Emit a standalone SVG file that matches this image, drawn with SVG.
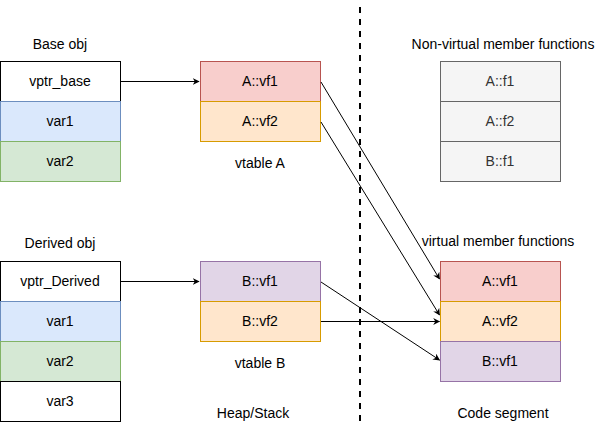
<svg xmlns="http://www.w3.org/2000/svg" width="611" height="423" viewBox="0 0 611 423">
<style>
text{font-family:"Liberation Sans",Arial,sans-serif;font-size:14px;fill:#000;text-anchor:middle;dominant-baseline:central}
.w{fill:#fff;stroke:#000}
.blue{fill:#dae8fc;stroke:#6c8ebf}
.green{fill:#d5e8d4;stroke:#82b366}
.red{fill:#f8cecc;stroke:#b85450}
.orange{fill:#ffe6cc;stroke:#d79b00}
.purple{fill:#e1d5e7;stroke:#9673a6}
.gray{fill:#f5f5f5;stroke:#666}
text.g{fill:#333}
.c{fill:none;stroke:#000;stroke-width:1}
</style>
<defs>
<marker id="ah" viewBox="0 0 10 10" refX="9" refY="5" markerWidth="7" markerHeight="7" orient="auto" markerUnits="userSpaceOnUse">
<path d="M0,0 L10,5 L0,10 L3,5 Z" fill="#000"/>
</marker>
</defs>
<rect width="611" height="423" fill="#fff"/>
<line x1="360" y1="7" x2="360" y2="423" stroke="#000" stroke-width="2" stroke-dasharray="6 6"/>

<g id="base-obj">
<text x="60" y="44">Base obj</text>
<rect class="w" x="0.5" y="61.5" width="120" height="40"/><text x="60" y="81">vptr_base</text>
<rect class="blue" x="0.5" y="101.5" width="120" height="40"/><text x="60" y="121">var1</text>
<rect class="green" x="0.5" y="141.5" width="120" height="40"/><text x="60" y="161">var2</text>
</g>

<g id="vtable-a">
<rect class="red" x="200.5" y="61.5" width="120" height="40"/><text x="260" y="81">A::vf1</text>
<rect class="orange" x="200.5" y="101.5" width="120" height="40"/><text x="260" y="121">A::vf2</text>
<text x="260" y="163">vtable A</text>
</g>

<g id="non-virtual">
<text x="503" y="44">Non-virtual member functions</text>
<rect class="gray" x="440.5" y="61.5" width="120" height="40"/><text class="g" x="500" y="81">A::f1</text>
<rect class="gray" x="440.5" y="101.5" width="120" height="40"/><text class="g" x="500" y="121">A::f2</text>
<rect class="gray" x="440.5" y="141.5" width="120" height="40"/><text class="g" x="500" y="161">B::f1</text>
</g>

<g id="derived-obj">
<text x="60" y="243">Derived obj</text>
<rect class="w" x="0.5" y="261.5" width="120" height="40"/><text x="60" y="281">vptr_Derived</text>
<rect class="blue" x="0.5" y="301.5" width="120" height="40"/><text x="60" y="321">var1</text>
<rect class="green" x="0.5" y="341.5" width="120" height="40"/><text x="60" y="361">var2</text>
<rect class="w" x="0.5" y="381.5" width="120" height="40"/><text x="60" y="401">var3</text>
</g>

<g id="vtable-b">
<rect class="purple" x="200.5" y="261.5" width="120" height="40"/><text x="260" y="281">B::vf1</text>
<rect class="orange" x="200.5" y="301.5" width="120" height="40"/><text x="260" y="321">B::vf2</text>
<text x="260" y="363">vtable B</text>
</g>

<g id="code-segment">
<text x="498" y="241">virtual member functions</text>
<rect class="red" x="440.5" y="261.5" width="120" height="40"/><text x="500" y="281">A::vf1</text>
<rect class="orange" x="440.5" y="301.5" width="120" height="40"/><text x="500" y="321">A::vf2</text>
<rect class="purple" x="440.5" y="341.5" width="120" height="40"/><text x="500" y="361">B::vf1</text>
</g>

<g id="labels">
<text x="253" y="413">Heap/Stack</text>
<text x="503" y="413">Code segment</text>
</g>

<g id="connectors">
<line class="c" x1="121" y1="81.5" x2="199" y2="81.5" marker-end="url(#ah)"/>
<line class="c" x1="321" y1="82" x2="439.5" y2="279" marker-end="url(#ah)"/>
<line class="c" x1="321" y1="122" x2="439.5" y2="315" marker-end="url(#ah)"/>
<line class="c" x1="121" y1="281.5" x2="199" y2="281.5" marker-end="url(#ah)"/>
<line class="c" x1="321" y1="282" x2="439.5" y2="360" marker-end="url(#ah)"/>
<line class="c" x1="321" y1="321.5" x2="439.5" y2="321.5" marker-end="url(#ah)"/>
</g>
</svg>
